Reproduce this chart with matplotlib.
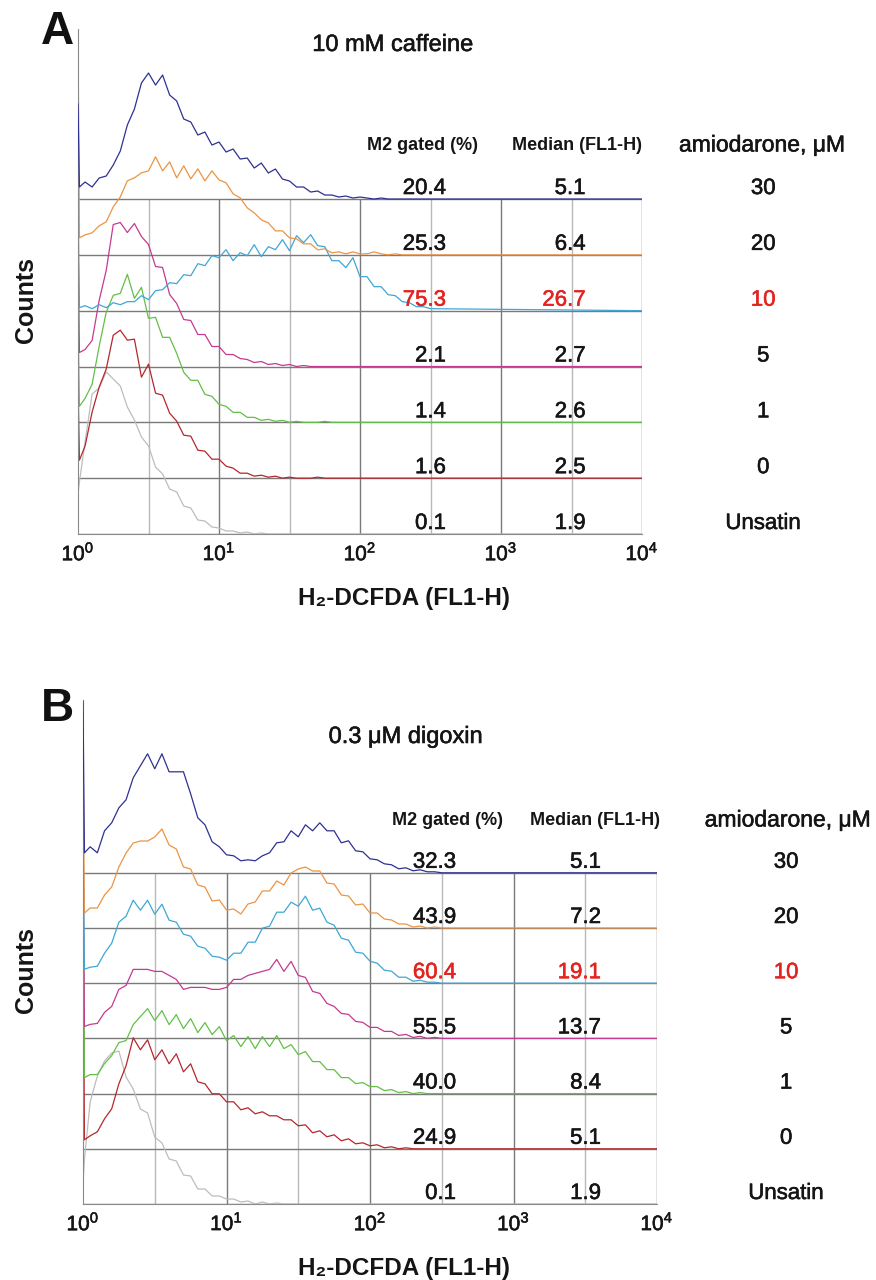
import numpy as np
import matplotlib.pyplot as plt
import matplotlib.patheffects as pe

plt.rcParams['font.family'] = ['Liberation Sans', 'DejaVu Sans']
plt.rcParams['mathtext.fontset'] = 'custom'
plt.rcParams['mathtext.rm'] = 'Liberation Sans'

# channel axis, log10 of FL1-H (first channel, then 0.05 steps, then end of scale)
log_ch = np.concatenate([[0.0, 0.01], np.round(np.arange(0.05, 2.501, 0.05), 2), [4.0]])

# ---- panel A: 10 mM caffeine (heights = counts, one row = ~56 counts)
navy_a = [95, 12,
          17, 12, 21, 23, 34, 48, 74, 90, 116, 126,
          114, 124, 104, 98, 80, 77, 64, 67, 54, 57,
          47, 50, 40, 41, 31, 36, 26, 30, 20, 18,
          12, 12, 7, 8, 4, 4, 2, 3, 1, 2,
          1, 0, 1, 0, 0, 0, 0, 0, 0, 0,
          0]
orange_a = [226, 17,
            20, 22, 29, 33, 48, 58, 74, 77, 82, 84,
            98, 84, 93, 77, 89, 76, 86, 74, 84, 75,
            72, 61, 57, 47, 42, 35, 32, 24, 24, 17,
            16, 11, 11, 5, 6, 2, 3, 1, 3, 1,
            1, 3, 1, 0, 1, 0, 0, 0, 0, 0,
            0]
cyan_a = [120, 3,
          5, 2, 6, 3, 8, 6, 9, 9, 15, 11,
          20, 21, 28, 27, 36, 35, 47, 45, 55, 53,
          61, 50, 58, 55, 66, 54, 64, 61, 71, 60,
          75, 68, 76, 65, 64, 50, 50, 43, 53, 34,
          34, 24, 24, 16, 15, 9, 8, 4, 4, 2,
          0]
magenta_a = [140, 14,
             17, 26, 66, 96, 142, 144, 134, 143, 130, 122,
             100, 99, 72, 63, 47, 46, 32, 32, 20, 20,
             12, 12, 8, 7, 4, 5, 2, 3, 1, 2,
             0, 1, 0, 0, 0, 0, 0, 0, 0, 0,
             0, 0, 0, 0, 0, 0, 0, 0, 0, 0,
             0]
green_a = [110, 16,
           24, 38, 76, 110, 127, 129, 148, 124, 135, 104,
           105, 85, 85, 69, 50, 42, 42, 28, 26, 18,
           16, 10, 10, 5, 5, 2, 3, 1, 2, 0,
           1, 0, 0, 0, 1, 0, 0, 0, 0, 0,
           0, 0, 0, 0, 0, 0, 0, 0, 0, 0,
           0]
red_a = [100, 18,
         32, 66, 91, 109, 143, 148, 138, 139, 101, 114,
         85, 83, 65, 57, 43, 42, 28, 27, 19, 19,
         12, 10, 5, 5, 2, 3, 1, 2, 0, 1,
         0, 0, 0, 1, 0, 0, 0, 0, 0, 0,
         0, 0, 0, 0, 0, 0, 0, 0, 0, 0,
         0]
gray_a = [40, 52,
          92, 140, 146, 162, 155, 148, 127, 114, 97, 88,
          67, 60, 45, 42, 28, 26, 14, 13, 7, 6,
          3, 3, 1, 2, 0, 1, 0, 0, 0, 0,
          0, 0, 0, 0, 0, 0, 0, 0, 0, 0,
          0, 0, 0, 0, 0, 0, 0, 0, 0, 0,
          0]

# ---- panel B: 0.3 uM digoxin
navy_b = [171, 20,
          26, 20, 42, 50, 65, 73, 95, 107, 119, 104,
          119, 101, 101, 101, 79, 55, 48, 31, 26, 18,
          17, 12, 13, 12, 17, 20, 30, 31, 42, 36,
          48, 42, 50, 42, 42, 30, 32, 22, 21, 14,
          13, 9, 8, 4, 5, 2, 3, 1, 1, 0,
          0]
orange_b = [183, 15,
            20, 20, 33, 41, 61, 75, 85, 87, 87, 91,
            99, 83, 79, 61, 59, 43, 41, 27, 28, 18,
            19, 14, 24, 26, 37, 37, 47, 43, 55, 59,
            61, 57, 57, 45, 44, 33, 32, 23, 24, 15,
            15, 9, 8, 4, 4, 1, 2, 0, 1, 0,
            0]
cyan_b = [150, 14,
          16, 17, 30, 40, 61, 67, 83, 73, 83, 69,
          79, 63, 61, 49, 47, 37, 35, 27, 26, 23,
          30, 30, 41, 41, 55, 57, 71, 71, 81, 77,
          87, 73, 75, 61, 58, 45, 43, 31, 30, 22,
          20, 13, 12, 6, 6, 2, 3, 1, 1, 0,
          0]
magenta_b = [200, 12,
             14, 15, 26, 32, 49, 53, 69, 69, 69, 67,
             67, 63, 59, 49, 51, 51, 51, 49, 49, 51,
             59, 59, 63, 65, 67, 69, 79, 67, 77, 63,
             61, 47, 45, 35, 32, 25, 24, 17, 16, 11,
             11, 7, 7, 3, 4, 1, 2, 0, 1, 0,
             0]
green_b = [261, 16,
           19, 19, 30, 38, 51, 53, 69, 77, 85, 73,
           83, 69, 79, 65, 75, 61, 71, 59, 67, 53,
           58, 47, 57, 45, 57, 47, 58, 45, 49, 39,
           42, 32, 32, 24, 24, 16, 16, 10, 11, 7,
           7, 3, 4, 1, 2, 0, 1, 0, 0, 0,
           0]
red_b = [280, 9,
         13, 17, 30, 40, 65, 83, 111, 99, 109, 89,
         99, 85, 95, 77, 85, 67, 65, 55, 55, 47,
         47, 39, 41, 35, 37, 33, 33, 29, 29, 23,
         24, 16, 18, 12, 14, 8, 10, 5, 6, 3,
         4, 1, 2, 0, 1, 0, 0, 0, 0, 0,
         0]
gray_b = [20, 45,
          102, 128, 143, 151, 153, 127, 115, 95, 91, 67,
          61, 45, 43, 29, 28, 15, 15, 8, 8, 5,
          5, 2, 3, 0, 2, 0, 1, 0, 0, 0,
          0, 0, 0, 0, 0, 0, 0, 0, 0, 0,
          0, 0, 0, 0, 0, 0, 0, 0, 0, 0,
          0]

# table values, rows from top (30 uM) to bottom (unstained)
amiodarone = ['30', '20', '10', '5', '1', '0', 'Unsatin']
m2_a = [20.4, 25.3, 75.3, 2.1, 1.4, 1.6, 0.1]
median_a = [5.1, 6.4, 26.7, 2.7, 2.6, 2.5, 1.9]
m2_b = [32.3, 43.9, 60.4, 55.5, 40.0, 24.9, 0.1]
median_b = [5.1, 7.2, 19.1, 13.7, 8.4, 5.1, 1.9]

colors = ['#2e3192', '#eb9445', '#3ea7d6', '#c53a90', '#63bf48', '#b3282d', '#bdbdbd']
highlight = '#e3231f'
ink = '#151515'
W, H = 876, 1280

fig = plt.figure(figsize=(W / 100, H / 100), dpi=100)


def fx(x):
    return x / W


def fy(y):
    return 1 - y / H


def thick(c, w=0.4):
    return [pe.withStroke(linewidth=w, foreground=c)]


def panel(left, right, top, bottom, gap, curves, m2, med, head_y, col_d):
    ax = fig.add_axes([fx(left), fy(bottom), fx(right - left), (bottom - top) / H])
    ax.set_xscale('log')
    ax.set_xlim(1, 1e4)
    ax.set_ylim(0, bottom - top)
    for s in ['top', 'right']:
        ax.spines[s].set_visible(False)
    ax.spines['left'].set_color('#8a8a8a')
    ax.spines['bottom'].set_color('#8a8a8a')
    ax.set_yticks([])
    ax.set_xticks([1, 10, 100, 1000, 10000])
    ax.set_xticklabels([r'$\mathregular{10^{%d}}$' % i for i in range(5)], fontsize=15,
                       color=ink)
    for t in ax.get_xticklabels():
        t.set_path_effects(thick(ink))
    ax.xaxis.set_minor_locator(plt.NullLocator())
    ax.tick_params(axis='x', length=0, pad=6)

    nrow = len(curves)
    top_line = (nrow - 1) * gap
    # grid
    for d in np.arange(0.5, 4.01, 0.5):
        c = '#7a7a7a' if d % 1 == 0 else '#b8b8b8'
        ax.vlines(10 ** d, 0, top_line, color=c, lw=1.0, zorder=1)
    for k in range(nrow):
        ax.hlines(k * gap, 1, 1e4, color='#7a7a7a', lw=1.0, zorder=1)

    x = 10 ** log_ch
    for i, (h, c) in enumerate(zip(curves, colors)):
        k = nrow - 1 - i
        ax.plot(x, k * gap + np.array(h, float), color=c, lw=0.9, zorder=2 + k * 0.1)

    for i in range(nrow):
        k = nrow - 1 - i
        col = highlight if i == 2 else ink
        yy = k * gap + 5
        kw = dict(va='baseline', fontsize=16, color=col, zorder=5, path_effects=thick(col))
        ax.text(10 ** col_d[0], yy, f'{m2[i]:.1f}', ha='right', **kw)
        ax.text(10 ** col_d[1], yy, f'{med[i]:.1f}', ha='right', **kw)
        ax.text(10 ** col_d[2], yy, amiodarone[i], ha='center', **kw)
    ax.text(10 ** col_d[3], head_y, 'M2 gated (%)', ha='center', va='center',
            fontsize=13, fontweight='bold', color=ink)
    ax.text(10 ** col_d[4], head_y, 'Median (FL1-H)', ha='center', va='center',
            fontsize=13, fontweight='bold', color=ink)
    ax.text(10 ** col_d[5], head_y, 'amiodarone, μM', ha='center', va='center',
            fontsize=16.5, color=ink, path_effects=thick(ink))
    return ax


panel(78, 642, 29, 534, 55.83,
      [navy_a, orange_a, cyan_a, magenta_a, green_a, red_a, gray_a],
      m2_a, median_a, 389, [2.61, 3.60, 4.86, 2.44, 3.54, 4.85])
panel(83, 657, 700, 1204, 55.2,
      [navy_b, orange_b, cyan_b, magenta_b, green_b, red_b, gray_b],
      m2_b, median_b, 384, [2.60, 3.61, 4.90, 2.54, 3.57, 4.91])

# panel letters, titles, axis labels
fig.text(fx(57), fy(32), 'A', fontsize=33, fontweight='bold', ha='center', va='center', color='#111111')
fig.text(fx(57), fy(709), 'B', fontsize=33, fontweight='bold', ha='center', va='center', color='#111111')
fig.text(fx(393), fy(45), '10 mM caffeine', fontsize=17, ha='center', va='center', color=ink,
         path_effects=thick(ink))
fig.text(fx(406), fy(737), '0.3 μM digoxin', fontsize=17, ha='center', va='center', color=ink,
         path_effects=thick(ink))
for y in [300, 970]:
    fig.text(fx(26), fy(y), 'Counts', fontsize=18, fontweight='bold', rotation=90,
             ha='center', va='center', color=ink)
for y in [598, 1268]:
    fig.text(fx(404), fy(y), 'H₂-DCFDA (FL1-H)', fontsize=17.5,
             fontweight='bold', ha='center', va='center', color=ink)

fig.savefig('out.png', dpi=100)
